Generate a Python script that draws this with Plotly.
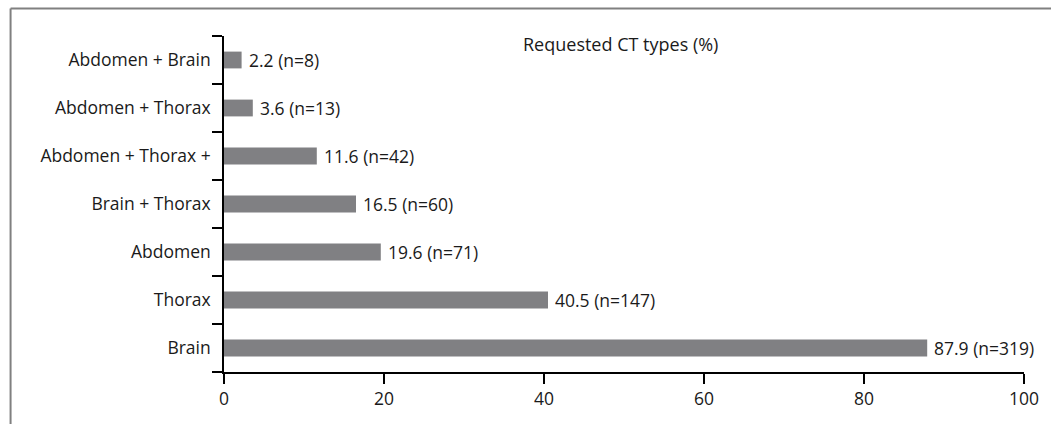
import plotly.graph_objects as go

categories = ["Brain", "Thorax", "Abdomen", "Brain + Thorax",
              "Abdomen + Thorax +", "Abdomen + Thorax", "Abdomen + Brain"]
percent = [87.9, 40.5, 19.6, 16.5, 11.6, 3.6, 2.2]
counts = [319, 147, 71, 60, 42, 13, 8]
x_ticks = [0, 20, 40, 60, 80, 100]
title_text = "Requested CT types (%)"

FONT = "Open Sans"
FS = 17.5
TXT = "#1a1a1a"
labels = [f"{p} (n={n})" for p, n in zip(percent, counts)]

fig = go.Figure()
fig.add_trace(go.Bar(
    x=percent, y=categories, orientation="h",
    marker=dict(color="#808083", line=dict(width=0)),
    width=0.35, hoverinfo="skip",
))

for p, c, lab in zip(percent, categories, labels):
    fig.add_annotation(x=p, y=c, text=lab, showarrow=False,
                       xanchor="left", yanchor="middle", xshift=5,
                       font=dict(family=FONT, size=FS, color=TXT))

fig.add_annotation(x=0.496, y=0.977, xref="paper", yref="paper",
                   text=title_text, showarrow=False,
                   xanchor="center", yanchor="middle",
                   font=dict(family=FONT, size=18, color=TXT))

# figure frame (top and left edges)
TOP = (372 - 8.5) / 336
LEFT = (9.5 - 224) / 804
fig.add_shape(type="line", xref="paper", yref="paper",
              x0=LEFT, x1=1.1, y0=TOP, y1=TOP,
              line=dict(color="#808080", width=2))
fig.add_shape(type="line", xref="paper", yref="paper",
              x0=LEFT, x1=LEFT, y0=TOP, y1=-0.3,
              line=dict(color="#808080", width=2))

fig.update_layout(
    width=1051, height=424,
    margin=dict(l=224, r=23, t=36, b=52),
    paper_bgcolor="white", plot_bgcolor="white",
    showlegend=False,
    font=dict(family=FONT, size=FS, color=TXT),
    xaxis=dict(range=[0, 100], tickvals=x_ticks, showgrid=False,
               zeroline=False, showline=True, linecolor="black",
               linewidth=1.5, ticks="outside", ticklen=10,
               tickcolor="black", tickwidth=1.5,
               tickfont=dict(family=FONT, size=FS, color=TXT)),
    yaxis=dict(categoryorder="array", categoryarray=categories,
               showgrid=False, zeroline=False, showline=True,
               linecolor="black", linewidth=1.5, ticks="outside",
               tickson="boundaries", ticklen=10, tickcolor="black",
               tickwidth=1.5, ticklabelstandoff=8,
               tickfont=dict(family=FONT, size=FS, color=TXT)),
)

fig.write_html("out.html",
               config={"displayModeBar": False},
               post_script="document.body.style.margin='0';"
                           "document.body.style.padding='0';")
